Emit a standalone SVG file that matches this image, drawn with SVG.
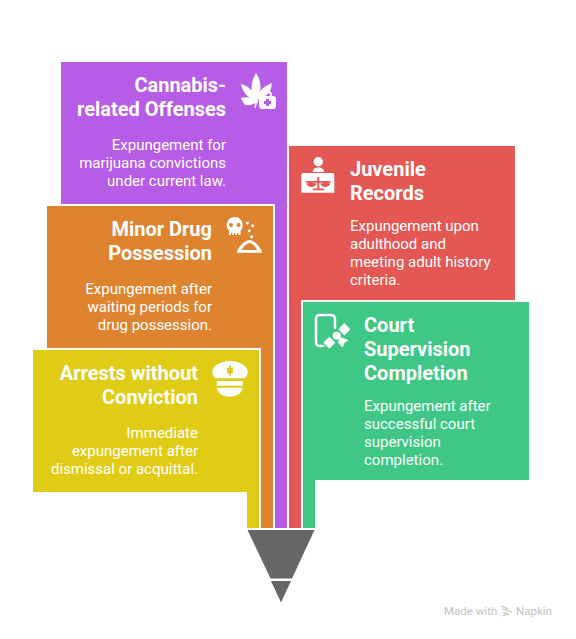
<svg xmlns="http://www.w3.org/2000/svg" width="576" height="639" viewBox="0 0 576 639">
<style>
.t{font-family:Roboto,"Liberation Sans",sans-serif;font-size:20px;font-weight:700;fill:#fff}
.b{font-family:Roboto,"Liberation Sans",sans-serif;font-size:15px;fill:#fff}
.e{text-anchor:end}
.i{fill:#fff}
.g{fill:#666}
.s{stroke:#fff;stroke-width:4;paint-order:stroke}
</style>
<rect width="576" height="639" fill="#fff"/>
<g id="cannabis">
<path class="s" d="M61 62H287V528H275V206H61Z" fill="#b75ce6"/>
<text class="t e" x="226" y="92">Cannabis-</text><text class="t e" x="226" y="116">related Offenses</text>
<text class="b e" x="226" y="150">Expungement for</text><text class="b e" x="226" y="168">marijuana convictions</text><text class="b e" x="226" y="186">under current law.</text>
<g class="i"><path d="M256 73C259 77 261 83 260.500 89L259.500 92C262 88 267 85 271.700 83C271.700 88 270 93 266 95.500L261 97L258 100V103H257L255.800 108H254.500L255 103C252 105 248 106 244.500 104.500L240.700 98C245 96.500 249 97 252 99C247 97 243 92 240.700 84C245 85 249 87 251.500 90.500C251.500 83 253 78 256 73Z"/><path fill-rule="evenodd" d="M259 99A3 3 0 0 1 262 96H263V95A4.500 4.500 0 0 1 272 95V96H273A3 3 0 0 1 276 99V106A3 3 0 0 1 273 109H262A3 3 0 0 1 259 106ZM265 96H270V95A2.500 2.500 0 0 0 265 95ZM266 99V101H264V104H266V106H269V104H271V101H269V99Z"/></g>
</g>
<g id="minor-drug">
<path class="s" d="M47 206H273V528H261V350H47Z" fill="#de8431"/>
<text class="t e" x="212" y="236">Minor Drug</text><text class="t e" x="212" y="260">Possession</text>
<text class="b e" x="212" y="294">Expungement after</text><text class="b e" x="212" y="312">waiting periods for</text><text class="b e" x="212" y="330">drug possession.</text>
<g class="i"><path fill-rule="evenodd" d="M234.700 217C239 217 242.700 220.500 242.700 225C242.700 228 241.500 230 240.500 231V235H238.300V233H237V235H235.300V233H234V235H232.300V233H231V235H229V231C228 230 226.700 228 226.700 225C226.700 220.500 230.500 217 234.700 217ZM231 223A2 2 0 1 0 231.100 223ZM238.500 223A2 2 0 1 0 238.600 223Z"/><circle cx="247.300" cy="223" r="1.500"/><circle cx="252.700" cy="225.700" r="1.500"/><circle cx="249.300" cy="230.700" r="1.500"/><circle cx="251.700" cy="236.700" r="1.500"/><path fill-rule="evenodd" d="M236.700 252.700C238 247 245 240 249.500 240C254 240 261 247 262.300 252.700ZM241.500 250H257.500C255 246 251.500 243 249.500 243C247.500 243 244 246 241.500 250Z"/></g>
</g>
<g id="arrests">
<path class="s" d="M33 350H259V528H247V492H33Z" fill="#e0cb15"/>
<text class="t e" x="198" y="380">Arrests without</text><text class="t e" x="198" y="404">Conviction</text>
<text class="b e" x="198" y="438">Immediate</text><text class="b e" x="198" y="456">expungement after</text><text class="b e" x="198" y="474">dismissal or acquittal.</text>
<g class="i"><path fill-rule="evenodd" d="M230 361C240 361 247.700 366 247.700 372C247.700 376 245 378.300 243 378.300H217C215 378.300 212.300 376 212.300 372C212.300 366 220 361 230 361ZM229 365.500V368L226.500 367.500L227.500 370.500L226.500 373.500L229 373V375.500H231V373L233.500 373.500L232.500 370.500L233.500 367.500L231 368V365.500Z"/><rect x="216.700" y="381" width="26" height="4.700"/><path d="M216.700 387.700H242.700C241.700 393 237 396.700 229.700 396.700C222.500 396.700 217.700 393 216.700 387.700Z"/></g>
</g>
<g id="juvenile">
<path class="s" d="M289 146H515V300H301V528H289Z" fill="#e55753"/>
<text class="t" x="350" y="176">Juvenile</text><text class="t" x="350" y="200">Records</text>
<text class="b" x="350" y="231">Expungement upon</text><text class="b" x="350" y="249">adulthood and</text><text class="b" x="350" y="267">meeting adult history</text><text class="b" x="350" y="285">criteria.</text>
<g class="i"><circle cx="318.300" cy="161.700" r="4.700"/><path d="M312.700 172C312.700 169 315 167.500 318.300 167.500C321.500 167.500 324 169 324 172Z"/><path fill-rule="evenodd" d="M301.300 175A2 2 0 0 1 303.300 173H332.300A2 2 0 0 1 334.300 175V192.700H301.300ZM317.300 177V181H306V182.800H309.500L306.500 183.500C307 188 316 188 316.500 183.500L311 182.800H317.300V188.500H312.700V190.300H324V188.500H319.300V182.800H325.500L320.200 183.500C320.700 188 329.700 188 330.200 183.500L327 182.800H330.700V181H319.300V177Z"/></g>
</g>
<g id="court">
<path class="s" d="M303 302H529V480H315V528H303Z" fill="#3ec785"/>
<text class="t" x="364" y="332">Court</text><text class="t" x="364" y="356">Supervision</text><text class="t" x="364" y="380">Completion</text>
<text class="b" x="364" y="411">Expungement after</text><text class="b" x="364" y="429">successful court</text><text class="b" x="364" y="447">supervision</text><text class="b" x="364" y="465">completion.</text>
<g class="i"><path fill="none" stroke="#fff" stroke-width="2.500" stroke-linecap="round" d="M323 346H319.500Q316 346 316 342V319Q316 315 320 315H330Q335 315 335 319V328"/><path d="M344.300 323L350.300 329.300L344.300 335.500L338.300 329.300Z"/><circle cx="336.700" cy="335.700" r="4"/><path d="M329.300 336.700L335.300 342.700L329.300 348.700L323.300 342.700Z"/><path d="M340 337L348.500 340L344.500 343L342.500 347.500L338 342.500Z"/></g>
</g>
<g id="connectors">
<path class="g" d="M247.500 530H314.500L292 578.500H270.500Z"/>
<path class="g" d="M271 581H291L281 602.500Z"/>
</g>
<g id="watermark" fill="#c2c2c2">
<text x="444" y="615" font-family="Roboto,'Liberation Sans',sans-serif" font-size="11.500">Made with</text>
<path d="M502 606L508 609M502 609L512 612M503 612L509 615M503 616L508 613" stroke="#c2c2c2" stroke-width="1.300" fill="none"/>
<text x="516" y="615" font-family="Roboto,'Liberation Sans',sans-serif" font-size="11.500">Napkin</text>
</g>
</svg>
